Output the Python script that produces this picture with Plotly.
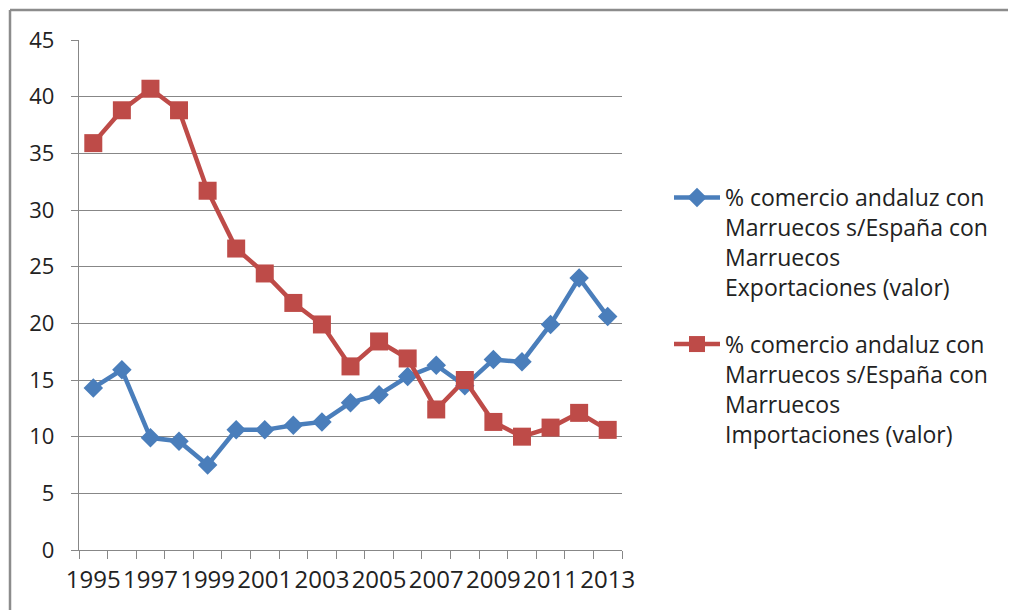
import plotly.graph_objects as go

years = list(range(1995, 2014))
exportaciones = [14.3, 15.9, 9.9, 9.6, 7.5, 10.6, 10.6, 11.0, 11.3, 13.0, 13.7, 15.3, 16.3, 14.5, 16.8, 16.6, 19.9, 24.0, 20.6]
importaciones = [35.9, 38.8, 40.7, 38.8, 31.7, 26.6, 24.4, 21.8, 19.9, 16.2, 18.4, 16.9, 12.4, 15.0, 11.3, 10.0, 10.8, 12.1, 10.6]
name_exp = "% comercio andaluz con<br>Marruecos s/España con<br>Marruecos<br>Exportaciones (valor)"
name_imp = "% comercio andaluz con<br>Marruecos s/España con<br>Marruecos<br>Importaciones (valor)"
label_years = [y for y in years if (y - 1995) % 2 == 0]

FONT = "Open Sans"
GRID = "#878787"
TXT = "#222222"

# plot area in figure pixels (page body adds an 8px offset)
L, R, T, B = 71, 614, 32, 542
W, H = R - L, B - T


def px(fx):
    return (fx - L) / W


def py(fy):
    return (B - fy) / H


fig = go.Figure()
fig.add_trace(go.Scatter(
    x=years, y=exportaciones, name=name_exp, mode="lines+markers",
    line=dict(color="#4a7ebb", width=4.5),
    marker=dict(symbol="diamond", size=15, color="#4a7ebb"),
    legendgroup="a",
))
fig.add_trace(go.Scatter(
    x=years, y=importaciones, name=name_imp, mode="lines+markers",
    line=dict(color="#be4b48", width=4.5),
    marker=dict(symbol="square", size=18, color="#be4b48"),
    legendgroup="b",
))

fig.update_layout(
    width=1016, height=610,
    margin=dict(l=L, r=1016 - R, t=T, b=610 - B),
    paper_bgcolor="white", plot_bgcolor="white",
    font=dict(family=FONT, size=22, color=TXT),
    showlegend=True,
    legend=dict(
        x=px(661), y=py(168), xanchor="left", yanchor="top",
        font=dict(family=FONT, size=23, color=TXT),
        tracegroupgap=24, bgcolor="rgba(0,0,0,0)", valign="top",
        itemwidth=46,
    ),
    xaxis=dict(
        range=[1994.5, 2013.5], tickmode="array", tickvals=label_years,
        ticktext=[str(y) for y in label_years], ticks="",
        showgrid=False, showline=True, linecolor=GRID, linewidth=1.3,
        tickfont=dict(family=FONT, size=24, color=TXT), ticklabelstandoff=8,
        minor=dict(tickmode="linear", tick0=1994.5, dtick=1, ticks="outside",
                   ticklen=8, tickcolor=GRID, tickwidth=1.3, showgrid=False),
        zeroline=False,
    ),
    yaxis=dict(
        range=[0, 45], tickmode="linear", tick0=0, dtick=5,
        showgrid=True, gridcolor=GRID, gridwidth=1.3,
        showline=True, linecolor=GRID, linewidth=1.3,
        ticks="outside", ticklen=7, tickcolor=GRID, tickwidth=1.3,
        tickfont=dict(family=FONT, size=22, color=TXT), ticklabelstandoff=12,
        zeroline=False,
    ),
    shapes=[
        dict(type="line", xref="paper", yref="paper",
             x0=px(2), x1=px(1030), y0=py(2), y1=py(2),
             line=dict(color="#8c8c8c", width=2.5)),
        dict(type="line", xref="paper", yref="paper",
             x0=px(2), x1=px(2), y0=py(2), y1=py(630),
             line=dict(color="#8c8c8c", width=2.5)),
    ],
)

fig.write_html("out.html")
